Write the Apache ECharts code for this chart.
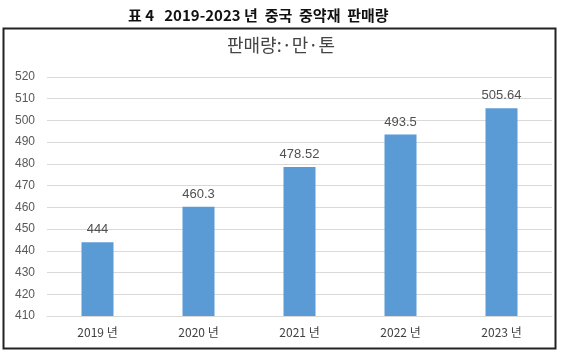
<!DOCTYPE html>
<html>
<head>
<meta charset="utf-8">
<script src="https://cdn.jsdelivr.net/npm/echarts@6/dist/echarts.min.js"></script>
<style>
html,body{margin:0;padding:0;background:#fff;}
#chart{width:562px;height:357px;}
</style>
</head>
<body>
<div id="chart"></div>
<script>
const categories = ['2019 년', '2020 년', '2021 년', '2022 년', '2023 년'];
const values = [444, 460.3, 478.52, 493.5, 505.64];
const yMin = 410, yMax = 520, yStep = 10;

const chart = echarts.init(document.getElementById('chart'), null, {renderer: 'canvas'});
chart.setOption({
  animation: false,
  backgroundColor: '#fff',
  title: [{
    text: '표 4   2019-2023 년  중국  중약재  판매량',
    left: 123, top: 3,
    textStyle: {fontFamily: 'Noto Sans CJK KR', fontSize: 15, fontWeight: 'bold', color: '#111'}
  }, {
    text: '판매량:·만·톤',
    left: 'center', top: 31,
    textStyle: {fontFamily: 'Noto Sans CJK KR', fontSize: 18, fontWeight: 'normal', color: '#444'}
  }],
  graphic: [{
    type: 'rect', shape: {x: 3.5, y: 28.5, width: 552, height: 320},
    style: {fill: null, stroke: '#222', lineWidth: 2}, z: -1
  }],
  grid: {left: 47, right: 10, top: 77, bottom: 41},
  xAxis: {
    type: 'category', data: categories,
    axisLine: {show: true, lineStyle: {color: '#d9d9d9'}},
    axisTick: {show: false},
    axisLabel: {color: '#404040', fontSize: 12, fontFamily: 'Noto Sans CJK KR', margin: 10}
  },
  yAxis: {
    type: 'value', min: yMin, max: yMax, interval: yStep,
    axisLine: {show: false}, axisTick: {show: false},
    axisLabel: {color: '#595959', fontSize: 12, fontFamily: 'Liberation Sans', margin: 12, align: 'right'},
    splitLine: {lineStyle: {color: '#d9d9d9'}}
  },
  series: [{
    type: 'bar', data: values, barWidth: 32,
    itemStyle: {color: '#5B9BD5'},
    label: {show: true, position: 'top', distance: 6, color: '#505050', fontSize: 13, fontFamily: 'Liberation Sans'}
  }]
});
</script>
</body>
</html>
